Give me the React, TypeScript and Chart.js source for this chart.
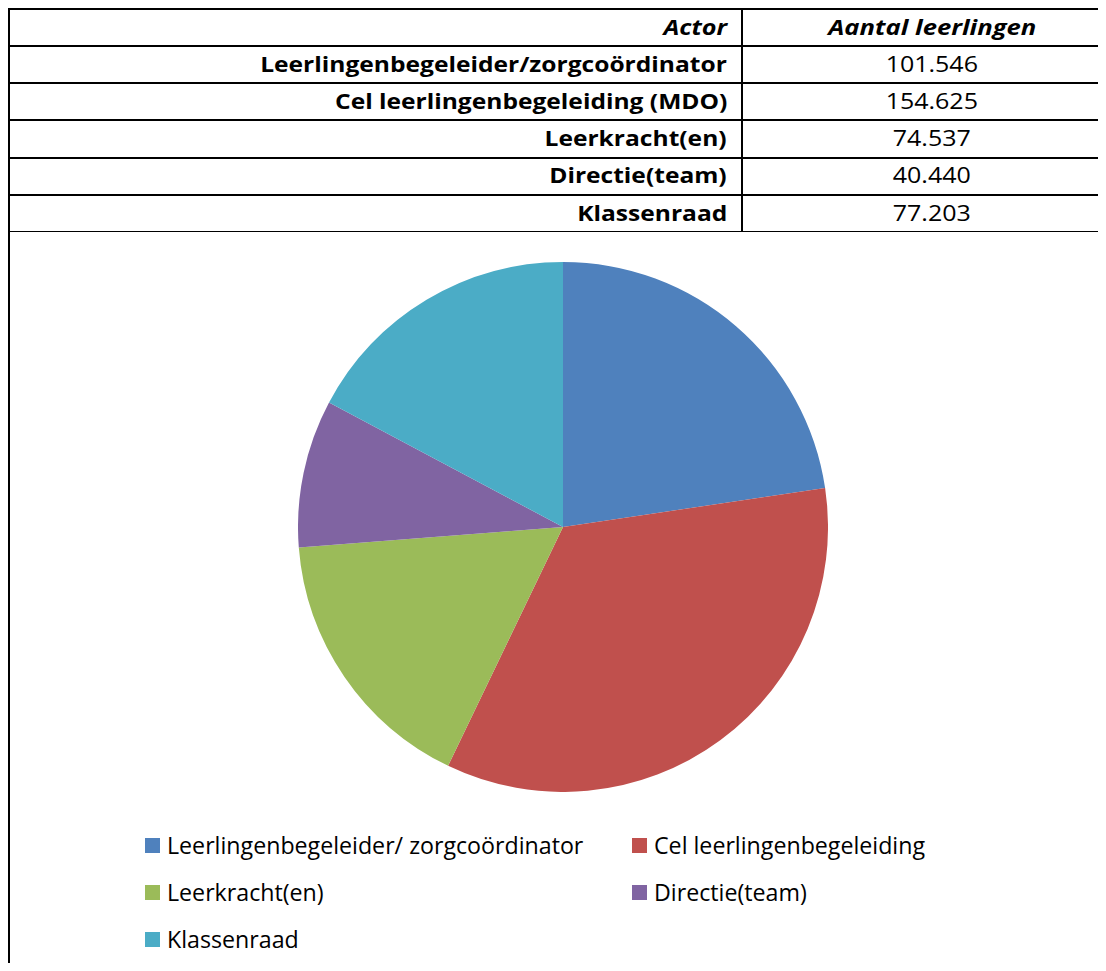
import React, { useEffect, useRef } from "react";
import { Chart, registerables } from "chart.js";

Chart.register(...registerables);

const tableHeader = ["Actor", "Aantal leerlingen"];
const tableActors = [
  "Leerlingenbegeleider/zorgcoördinator",
  "Cel leerlingenbegeleiding (MDO)",
  "Leerkracht(en)",
  "Directie(team)",
  "Klassenraad",
];
const tableValues = ["101.546", "154.625", "74.537", "40.440", "77.203"];

const legendLabels = [
  "Leerlingenbegeleider/ zorgcoördinator",
  "Cel leerlingenbegeleiding",
  "Leerkracht(en)",
  "Directie(team)",
  "Klassenraad",
];
const pieValues = [101546, 154625, 74537, 40440, 77203];
const sliceColors = ["#4F81BD", "#C0504D", "#9BBB59", "#8064A2", "#4BACC6"];

const FONT = "'Open Sans', 'Noto Sans', sans-serif";

function Stretch({
  children,
  k,
  origin,
}: {
  children: React.ReactNode;
  k: number;
  origin: string;
}) {
  return (
    <span
      style={{
        display: "inline-block",
        transform: `scaleX(${k})`,
        transformOrigin: origin,
      }}
    >
      {children}
    </span>
  );
}

export default function App() {
  const canvasRef = useRef<HTMLCanvasElement | null>(null);

  useEffect(() => {
    if (!canvasRef.current) return;
    const chart = new Chart(canvasRef.current, {
      type: "pie",
      data: {
        labels: legendLabels,
        datasets: [
          {
            data: pieValues,
            backgroundColor: sliceColors,
            borderWidth: 0,
          },
        ],
      },
      options: {
        responsive: false,
        maintainAspectRatio: false,
        animation: false,
        layout: { padding: 0 },
        plugins: {
          legend: { display: false },
          tooltip: { enabled: false },
        },
      },
    });
    return () => chart.destroy();
  }, []);

  const rowTops = [0, 37, 74, 111, 148.5, 186];
  const rowH = [37, 37, 37, 37.5, 37.5, 37];

  const lineStyle = (top: number): React.CSSProperties => ({
    position: "absolute",
    left: 0,
    top,
    width: 1120,
    height: 2,
    background: "#000",
  });

  const textBase: React.CSSProperties = {
    position: "absolute",
    fontFamily: FONT,
    fontSize: 21,
    color: "#000",
    whiteSpace: "nowrap",
    display: "flex",
    alignItems: "center",
  };

  return (
    <div
      style={{
        position: "relative",
        width: 1098,
        height: 955,
        overflow: "hidden",
        background: "#fff",
      }}
    >
      {rowTops.map((t, i) => (
        <div key={"l" + i} style={lineStyle(t)} />
      ))}
      <div
        style={{
          position: "absolute",
          left: 0,
          top: 0,
          width: 2,
          height: 960,
          background: "#000",
        }}
      />
      <div
        style={{
          position: "absolute",
          left: 733,
          top: 0,
          width: 2,
          height: 223,
          background: "#000",
        }}
      />

      <div
        style={{
          ...textBase,
          left: 0,
          width: 719,
          top: rowTops[0],
          height: rowH[0],
          justifyContent: "flex-end",
          fontWeight: 700,
          fontStyle: "italic",
        }}
      >
        <Stretch k={1.2} origin="right center">
          {tableHeader[0]}
        </Stretch>
      </div>
      <div
        style={{
          ...textBase,
          left: 735,
          width: 378,
          top: rowTops[0],
          height: rowH[0],
          justifyContent: "center",
          fontWeight: 700,
          fontStyle: "italic",
        }}
      >
        <Stretch k={1.22} origin="center center">
          {tableHeader[1]}
        </Stretch>
      </div>

      {tableActors.map((a, i) => (
        <React.Fragment key={a}>
          <div
            style={{
              ...textBase,
              left: 0,
              width: 719,
              top: rowTops[i + 1],
              height: rowH[i + 1],
              justifyContent: "flex-end",
              fontWeight: 700,
            }}
          >
            <Stretch k={1.17} origin="right center">
              {a}
            </Stretch>
          </div>
          <div
            style={{
              ...textBase,
              left: 735,
              width: 378,
              top: rowTops[i + 1],
              height: rowH[i + 1],
              justifyContent: "center",
            }}
          >
            <Stretch k={1.19} origin="center center">
              {tableValues[i]}
            </Stretch>
          </div>
        </React.Fragment>
      ))}

      <div
        style={{
          position: "absolute",
          left: 0,
          top: 223,
          width: 1120,
          height: 1,
          background: "#000",
        }}
      />

      <canvas
        ref={canvasRef}
        width={530}
        height={530}
        style={{ position: "absolute", left: 290, top: 254, width: 530, height: 530 }}
      />

      {legendLabels.map((label, i) => {
        const col = i % 2;
        const row = Math.floor(i / 2);
        const x = col === 0 ? 137 : 624;
        const y = 829.5 + row * 47;
        return (
          <div
            key={label}
            style={{
              position: "absolute",
              left: x,
              top: y,
              display: "flex",
              alignItems: "center",
              height: 15,
              whiteSpace: "nowrap",
            }}
          >
            <span
              style={{
                display: "inline-block",
                width: 15,
                height: 15,
                background: sliceColors[i],
                marginRight: 7,
              }}
            />
            <span
              style={{
                fontFamily: FONT,
                fontSize: 23.2,
                color: "#000",
                lineHeight: "15px",
              }}
            >
              {label}
            </span>
          </div>
        );
      })}
    </div>
  );
}
